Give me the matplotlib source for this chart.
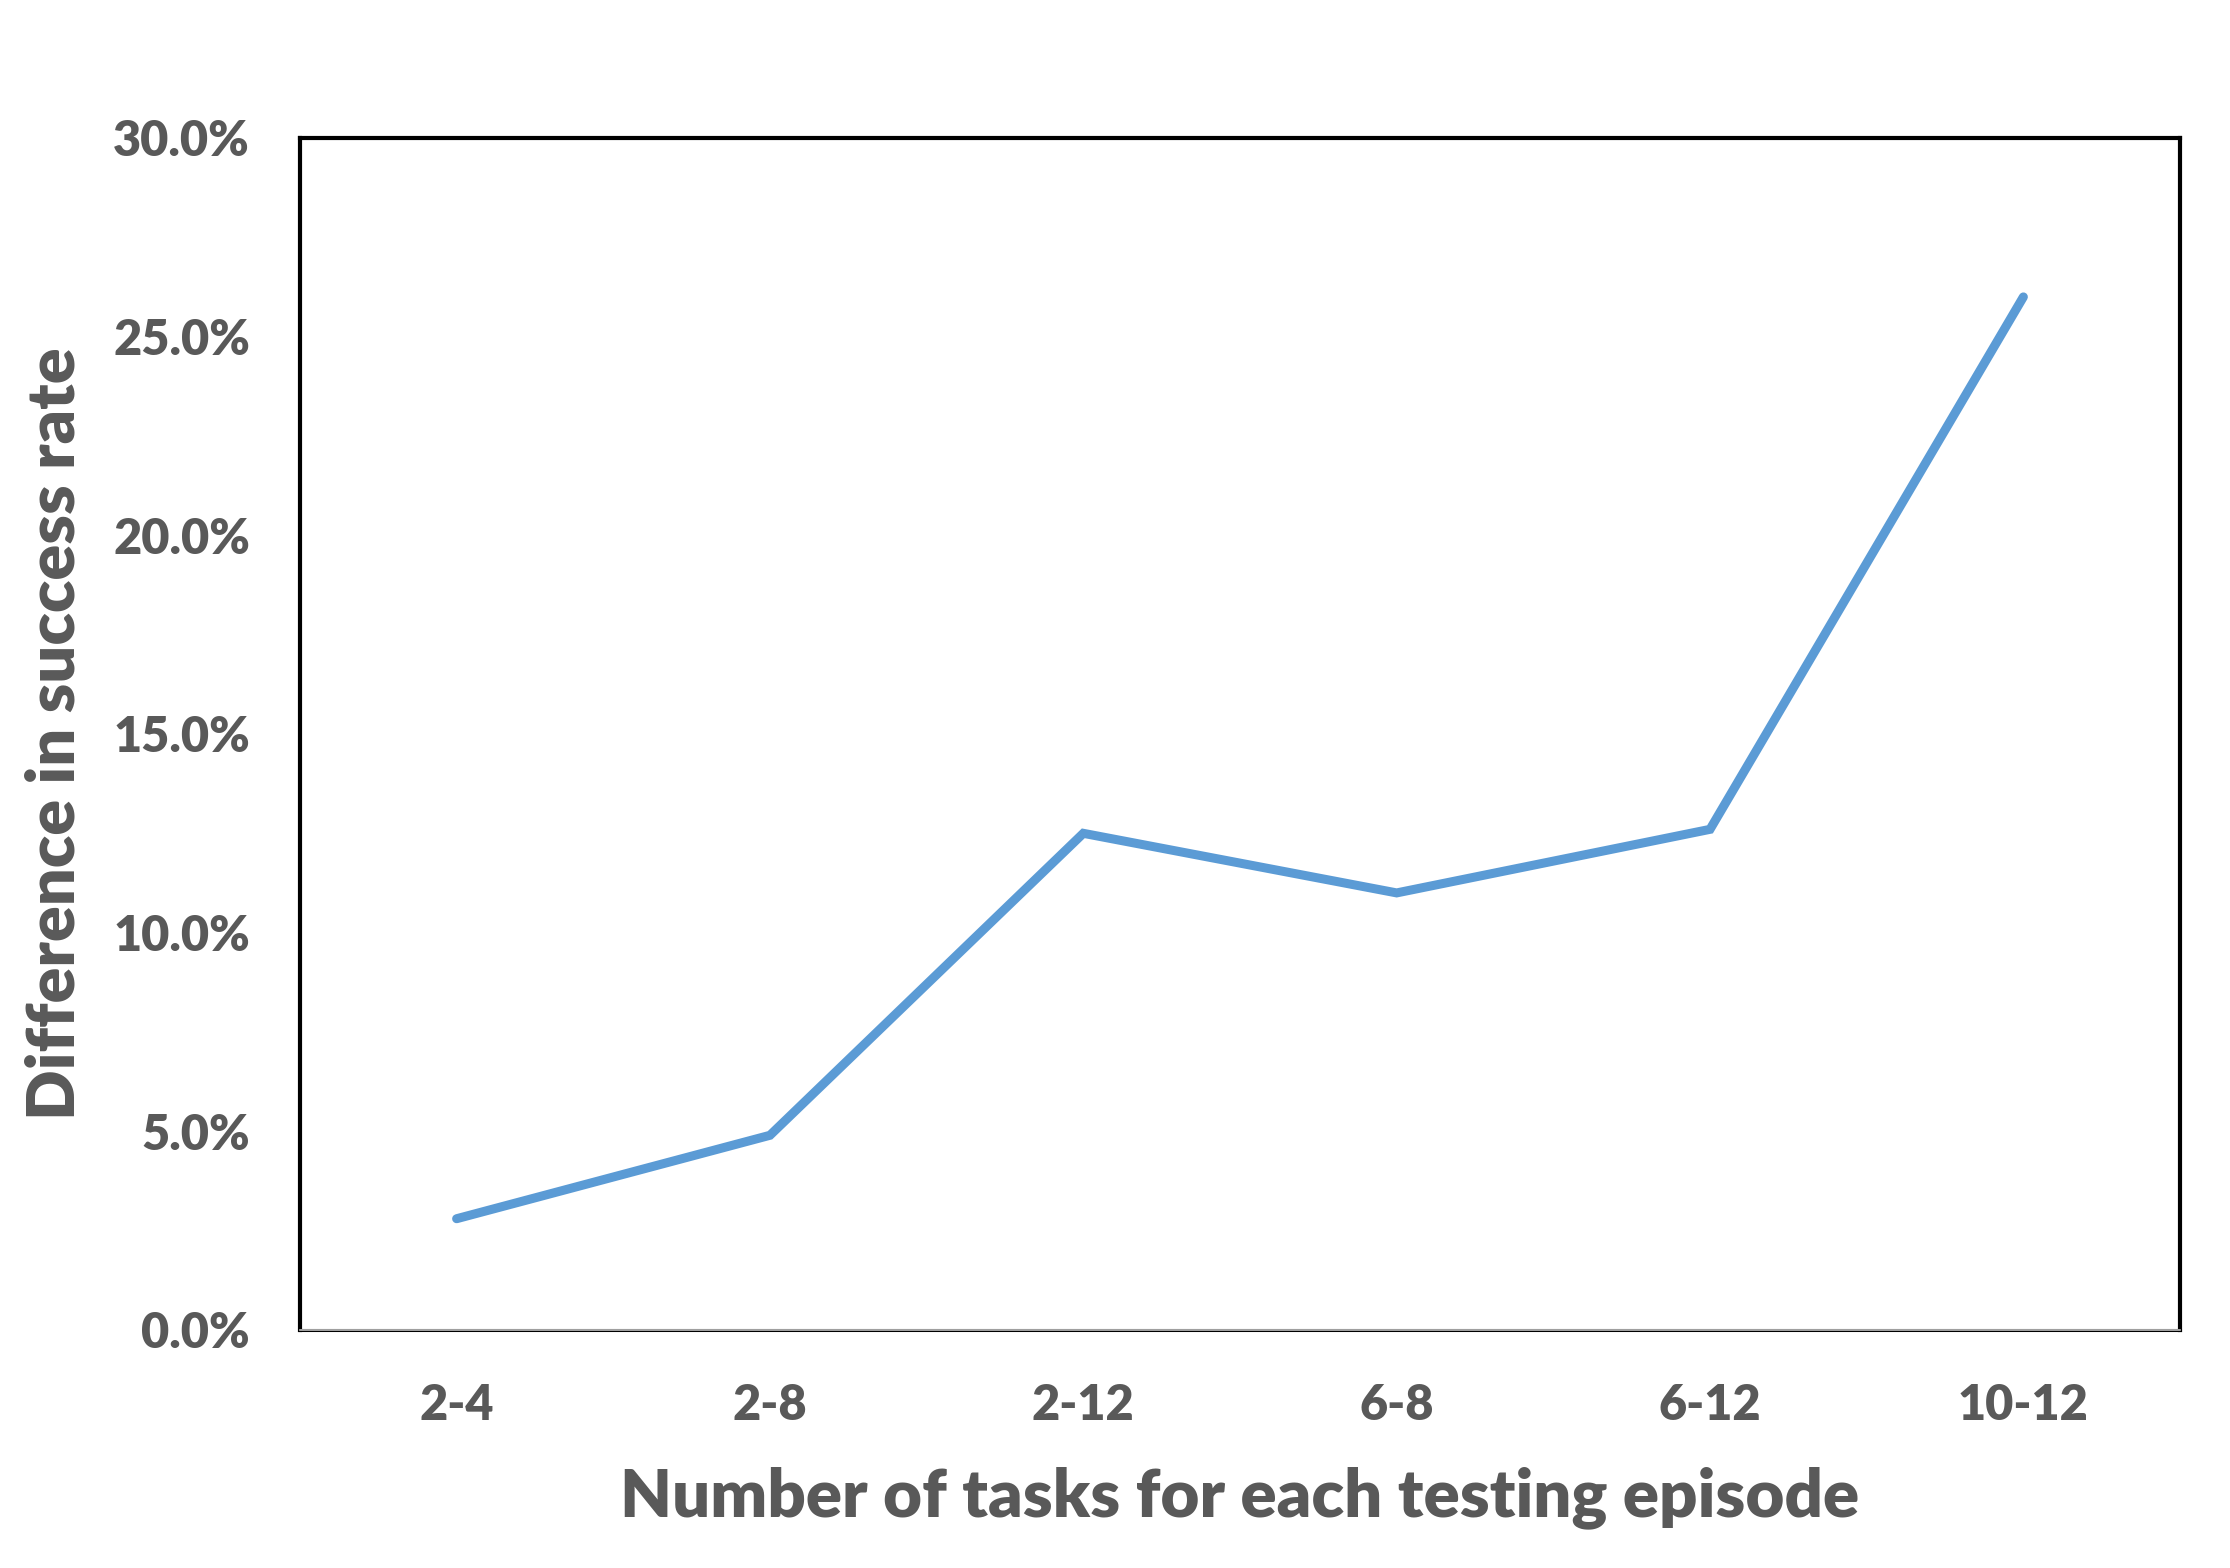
import matplotlib
matplotlib.use("Agg")
import matplotlib.pyplot as plt
from matplotlib.ticker import PercentFormatter, MultipleLocator

# data
categories = ["2-4", "2-8", "2-12", "6-8", "6-12", "10-12"]
diff_rate = [0.028, 0.049, 0.125, 0.110, 0.126, 0.260]

TEXT_GREY = "#595959"
LINE_BLUE = "#5B9BD5"

plt.rcParams["font.family"] = ["Lato", "DejaVu Sans"]
plt.rcParams["font.weight"] = "heavy"

fig = plt.figure(figsize=(22.30, 15.68), dpi=100)
ax = fig.add_axes([0.1345, 0.1518, 0.8431, 0.7602])

x = list(range(len(categories)))
ax.plot(x, diff_rate, color=LINE_BLUE, lw=6.5,
        solid_capstyle="round", solid_joinstyle="miter")

ax.set_xlim(-0.5, len(categories) - 0.5)
ax.set_ylim(0, 0.30)
ax.yaxis.set_major_locator(MultipleLocator(0.05))
ax.yaxis.set_major_formatter(PercentFormatter(1.0, decimals=1))
ax.set_xticks(x)
ax.set_xticklabels(categories)

ax.tick_params(axis="both", length=0, labelsize=35, labelcolor=TEXT_GREY)
ax.tick_params(axis="y", pad=36)
ax.tick_params(axis="x", pad=38)

for side in ["top", "left", "right"]:
    ax.spines[side].set_linewidth(3.0)
    ax.spines[side].set_color("black")
ax.spines["bottom"].set_linewidth(2.2)
ax.spines["bottom"].set_color("black")
# excel-style grey category axis line sitting on the frame
ax.axhline(0, color="#BFBFBF", lw=1.2, zorder=3, clip_on=False)

ax.set_xlabel("Number of tasks for each testing episode", fontsize=48.3,
              color=TEXT_GREY, fontweight="heavy", labelpad=28)
ax.set_ylabel("Difference in success rate", fontsize=48,
              color=TEXT_GREY, fontweight="heavy", labelpad=20)

fig.savefig("out.png", dpi=100, facecolor="white")
